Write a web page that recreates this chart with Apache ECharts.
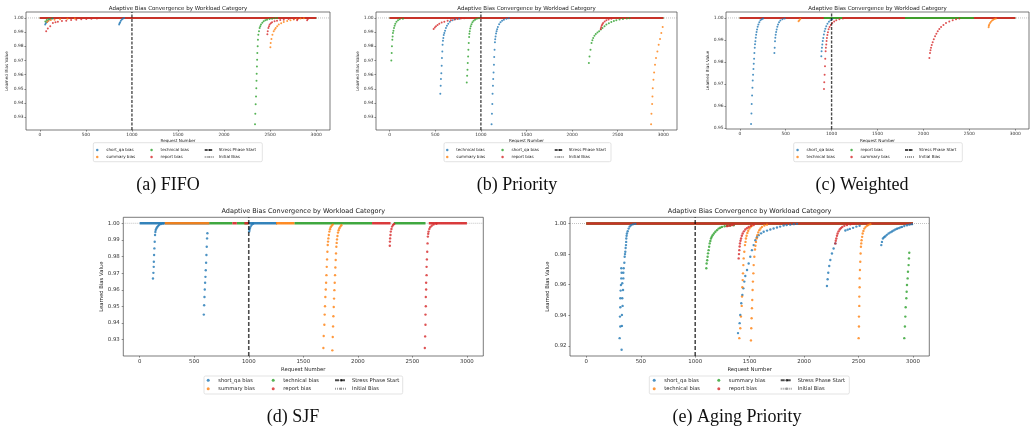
<!DOCTYPE html>
<html>
<head>
<meta charset="utf-8">
<script src="https://cdn.jsdelivr.net/npm/echarts@6/dist/echarts.min.js"></script>
<style>
  html, body { margin: 0; background: #fff; }
  #chart { width: 1036px; height: 433px; }
</style>
</head>
<body>
<div id="chart"></div>
<script>
// ---- shared ticks / constants ----
const xTicks = [0, 500, 1000, 1500, 2000, 2500, 3000];
const yTicks93 = [0.93, 0.94, 0.95, 0.96, 0.97, 0.98, 0.99, 1.00];
const yTicks95 = [0.95, 0.96, 0.97, 0.98, 0.99, 1.00];
const yTicks92 = [0.92, 0.94, 0.96, 0.98, 1.00];
const palette = ['#1f77b4', '#ff7f0e', '#2ca02c', '#d62728'];
const stressStart = 1000;
const initialBias = 1.0;
const chartTitle = 'Adaptive Bias Convergence by Workload Category';

// ---- (a) FIFO ----
const fifoNames = ['short_qa bias', 'summary bias', 'technical bias', 'report bias'];
const fifoShortQa = [[58,.9953],[65,.9962],[75,.997],[90,.998],[110,.999],[140,.9997],
  [861,.9953],[866,.9962],[872,.997],[880,.998],[890,.999],[900,.9995],[915,1.0]];
const fifoSummary = [[80,.9972],[95,.998],[120,.9985],[160,.9988],[220,.9991],[300,.9994],[380,.9997],
  [2503,.9793],[2506,.9823],[2514,.9852],[2525,.9882],[2539,.9906],[2550,.9918],[2561,.9929],[2577,.9942],[2594,.9953],
  [2620,.9963],[2648,.9972],[2685,.9979],[2721,.9984],[2757,.9989],[2793,.9993],[2830,.9996],[2866,.9998]];
const fifoTechnical = [[60,.9975],[75,.9985],[95,.9992],[130,.9997],
  [2336,.925],[2339,.9324],[2343,.9392],[2347,.9446],[2350,.9505],[2352,.9557],[2354,.9606],[2357,.9658],[2359,.9705],
  [2361,.9753],[2365,.98],[2368,.9847],[2372,.9882],[2379,.9906],[2386,.9929],[2393,.9942],[2401,.9953],[2415,.9966],
  [2430,.9976],[2448,.9983],[2466,.9988],[2494,.9992],[2521,.9995],[2548,.9998],[2575,1.0]];
const fifoReport = [[69,.9906],[87,.9925],[113,.9941],[142,.9965],[170,.997],[196,.9974],[240,.9978],[287,.9981],[340,.9985],
  [396,.9988],[450,.9991],[505,.9993],[560,.9995],[620,.9997],
  [2470,.9885],[2474,.9906],[2481,.993],[2488,.9942],[2495,.9953],[2508,.9962],[2521,.997],[2548,.9976],[2575,.9981],
  [2610,.9985],[2648,.9988],[2700,.9992],[2757,.9995],[2793,.9984],[2800,.9993],[2902,.9984],[2910,.9993]];
const fifoFlats = [[[0, 3000]], [[0, 3000]], [[0, 3000]], [[0, 3000]]];

// ---- (b) Priority ----
const prioNames = ['technical bias', 'summary bias', 'short_qa bias', 'report bias'];
const prioTechnical = [[555,.9465],[559,.9522],[562,.9569],[566,.9611],[570,.9663],[573,.9717],[577,.9764],[580,.9811],
  [584,.984],[588,.9859],[593,.988],[599,.9894],[607,.991],[617,.9929],[628,.9945],[642,.996],[660,.9973],[689,.9984],
  [720,.9991],[762,.9995],
  [1117,.925],[1121,.9324],[1125,.9394],[1128,.9465],[1132,.9522],[1135,.9569],[1139,.9616],[1143,.967],[1146,.9724],
  [1150,.9776],[1154,.9828],[1157,.985],[1161,.987],[1166,.989],[1172,.9906],[1178,.992],[1186,.9936],[1200,.9955],
  [1215,.9969],[1232,.998],[1252,.9988],[1280,.9994],[1306,.9998]];
const prioSummary = [[2866,.925],[2870,.9324],[2877,.9394],[2881,.9446],[2884,.9505],[2892,.9564],[2899,.9616],[2909,.967],
  [2920,.9717],[2935,.9764],[2949,.9811],[2964,.9852],[2978,.9894],[2993,.9936]];
const prioShortQa = [[18,.970],[22,.9753],[25,.98],[29,.9847],[32,.987],[36,.9894],[41,.991],[47,.9929],[54,.9945],
  [62,.996],[75,.9973],[91,.9984],[110,.9991],[145,.9995],
  [845,.9545],[849,.9592],[853,.9635],[856,.9682],[860,.9729],[863,.9776],[867,.9823],[871,.9866],[874,.9888],[878,.9906],
  [883,.9925],[889,.9941],[897,.9956],[907,.9969],[920,.998],[936,.9988],[955,.9994],[979,.9998],
  [2184,.9682],[2191,.9729],[2202,.9776],[2213,.9823],[2222,.9843],[2231,.9859],[2245,.9875],[2260,.9887],[2278,.9897],
  [2296,.9906],[2315,.9918],[2333,.9929],[2355,.9941],[2376,.9953],[2403,.9963],[2430,.9972],[2458,.9979],[2485,.9984],
  [2520,.9989],[2557,.9993],[2600,.9996],[2630,.9998]];
const prioReport = [[482,.9922],[495,.9932],[508,.9941],[525,.9951],[544,.996],[570,.9968],[599,.9974],[635,.998],
  [671,.9984],[710,.9989],[744,.9993],[780,.9996],[816,.9998],
  [2314,.9922],[2318,.9934],[2325,.9946],[2332,.9956],[2340,.9965],[2357,.9975],[2376,.9984],[2400,.999],[2430,.9995]];
const prioFlats = [[[0, 3000]], [[0, 3000]], [[0, 3000]], [[0, 3000]]];

// ---- (c) Weighted ----
const wtdNames = ['short_qa bias', 'technical bias', 'report bias', 'summary bias'];
const wtdShortQa = [[123,.9518],[127,.9565],[130,.9609],[134,.9647],[138,.9682],[141,.9715],[145,.9742],[149,.9768],
  [152,.9792],[156,.9814],[159,.9841],[163,.9864],[166,.988],[170,.9894],[174,.991],[178,.9924],[183,.9936],[188,.9947],
  [195,.996],[203,.997],[213,.998],[225,.9989],[240,.9994],[254,.9997],
  [377,.9841],[380,.9864],[384,.9894],[387,.991],[391,.9924],[396,.9936],[402,.9947],[409,.996],[417,.997],[428,.998],
  [442,.9988],[465,.9994],[489,.9997],
  [888,.9826],[891,.9848],[895,.9864],[899,.9879],[904,.9895],[909,.9909],[916,.9925],[924,.9939],[932,.9951],[942,.9962],
  [955,.9974],[971,.9983],[988,.999],[1007,.9995]];
const wtdTechnical = [[640,.9985],[649,.9989],[659,.9995],
  [2710,.9958],[2713,.9964],[2717,.997],[2726,.9977],[2736,.9983],[2748,.9988],[2761,.9992],[2775,.9995],[2790,.9998]];
const wtdReport = [];
const wtdSummary = [[917,.9677],[920,.9708],[924,.9742],[928,.978],[931,.9814],[935,.9848],[938,.9865],[942,.9879],
  [945,.9895],[949,.9909],[954,.9922],[960,.9935],[968,.9948],[978,.9959],[991,.9968],[1007,.9977],[1028,.9984],
  [1051,.9989],[1085,.9994],[1123,.9997],
  [2065,.9818],[2072,.9841],[2077,.9853],[2083,.9864],[2091,.9877],[2101,.9889],[2113,.9903],[2127,.9917],[2141,.9928],
  [2156,.9939],[2173,.995],[2192,.9959],[2218,.9968],[2246,.9977],[2282,.9984],[2319,.9989],[2355,.9994],[2391,.9997]];
const wtdFlats = [[[0, 3000]], [[0, 3000]], [[0, 3000]], [[0, 915], [1120, 1800], [2550, 3000]]];

// ---- (d) SJF ----
const sjfNames = ['short_qa bias', 'summary bias', 'technical bias', 'report bias'];
const sjfShortQa = [[122,.9668],[126,.9702],[129,.9738],[130,.9769],[132,.9809],[135,.9849],[138,.9889],[141,.993],
  [144,.9948],[147,.996],[153,.9968],[159,.9976],[168,.9983],[178,.999],[195,.9995],[214,.9998],
  [588,.9451],[591,.9507],[594,.9557],[597,.9602],[600,.9642],[603,.9678],[606,.9718],[609,.9763],[612,.9809],
  [615,.9859],[618,.9909],[621,.994],
  [1004,.995],[1007,.996],[1010,.997],[1017,.998],[1026,.999],[1040,.9997]];
const sjfSummary = [[1684,.925],[1687,.9322],[1693,.939],[1696,.9451],[1699,.9501],[1702,.9557],[1706,.9602],[1709,.9642],
  [1712,.9688],[1715,.9738],[1718,.9783],[1721,.9829],[1724,.9869],[1727,.989],[1730,.9909],[1734,.993],[1739,.995],
  [1745,.9964],[1751,.9976],[1760,.9985],[1770,.9992],
  [1766,.9236],[1770,.9316],[1773,.938],[1776,.9441],[1779,.9497],[1782,.9547],[1785,.9598],[1788,.9642],[1791,.9688],
  [1794,.9734],[1797,.9779],[1800,.9819],[1803,.9859],[1806,.9882],[1809,.9903],[1813,.9924],[1818,.9944],[1824,.9958],
  [1831,.997],[1840,.998],[1849,.9988]];
const sjfTechnical = [];
const sjfReport = [[2293,.9865],[2294,.989],[2296,.9909],[2299,.993],[2302,.995],[2308,.9966],[2314,.998],[2322,.999],[2333,.9996],
  [2614,.925],[2617,.932],[2620,.939],[2620,.9451],[2623,.9501],[2623,.9557],[2626,.9602],[2626,.9642],[2630,.9688],
  [2630,.9738],[2633,.9783],[2636,.9829],[2639,.9879],[2642,.992],[2645,.9937],[2648,.995],[2655,.9965],[2663,.9976],
  [2677,.9985],[2694,.9992],[2720,.9997]];
const sjfFlats = [
  [[0, 640], [1000, 1260]],
  [[230, 640], [1250, 1420]],
  [[640, 850], [890, 1000], [1420, 2130], [2330, 2620]],
  [[850, 890], [960, 1000], [2130, 2300], [2650, 3000]]
];

// ---- (e) Aging Priority ----
const agingNames = ['short_qa bias', 'technical bias', 'summary bias', 'report bias'];
const agingShortQa = [[324,.9174],[306,.925],[312,.9326],[327,.933],[309,.9391],[327,.9402],[312,.9452],[333,.9461],
  [312,.9511],[330,.9511],[315,.9561],[337,.9565],[318,.9598],[330,.9609],[321,.9641],[340,.9641],[324,.9678],[340,.9678],
  [321,.9707],[343,.9707],[349,.9743],[352,.9783],[355,.98],[358,.9815],[361,.984],[364,.9859],[366,.988],[367,.9902],
  [370,.992],[373,.9935],[380,.995],[389,.9967],[398,.998],[410,.9989],[428,.9995],[450,.9998],
  [1393,.9283],[1408,.9348],[1414,.9402],[1423,.9478],[1433,.9533],[1442,.9576],[1451,.962],[1460,.9657],[1476,.9696],
  [1491,.9739],[1506,.9783],[1521,.9826],[1537,.9859],[1552,.9891],[1567,.991],[1583,.9924],[1605,.9936],[1629,.9946],
  [1660,.9954],[1690,.9961],[1720,.9968],[1751,.9974],[1780,.998],[1812,.9987],[1840,.999],[1873,.9993],[1905,.9996],
  [1935,.9998],
  [2210,.9591],[2216,.9635],[2222,.9678],[2231,.9722],[2241,.9761],[2256,.9804],[2271,.9837],[2287,.987],
  [2379,.9955],[2400,.996],[2420,.9965],[2450,.9972],[2480,.998],[2510,.9985],
  [2709,.9859],[2715,.988],[2724,.9902],[2735,.991],[2746,.9917],[2760,.9926],[2776,.9935],[2792,.9942],[2807,.9948],
  [2822,.9955],[2838,.9961],[2853,.9966],[2868,.997],[2884,.9975],[2899,.9978],[2920,.9984],[2945,.9989],[2968,.9993],
  [2990,.9996]];
const agingTechnical = [[1405,.925],[1414,.9315],[1420,.9391],[1427,.9461],[1430,.9522],[1433,.9583],[1436,.963],
  [1439,.9674],[1442,.9728],[1445,.9772],[1451,.9815],[1457,.9859],[1462,.988],[1466,.9902],[1472,.992],[1479,.9939],
  [1487,.9953],[1497,.9967],[1508,.9977],[1521,.9985],
  [1512,.9235],[1515,.9315],[1518,.938],[1521,.9446],[1524,.95],[1527,.9565],[1530,.962],[1534,.9674],[1537,.9728],
  [1543,.9783],[1549,.983],[1553,.9855],[1558,.988],[1564,.9903],[1570,.9924],[1579,.9942],[1589,.9957],[1600,.9968],
  [1613,.9978],[1635,.9987],[1659,.9993],
  [2501,.925],[2504,.9326],[2504,.9391],[2507,.9461],[2507,.9522],[2510,.9583],[2510,.9641],[2513,.9696],[2516,.975],
  [2519,.9804],[2522,.9848],[2525,.987],[2528,.9891],[2533,.9913],[2538,.9935],[2545,.9952],[2553,.9967],[2564,.9977],
  [2577,.9985],[2590,.9991],[2608,.9996]];
const agingSummary = [[1102,.9707],[1105,.9739],[1110,.976],[1114,.9783],[1118,.9805],[1123,.9826],[1128,.9848],
  [1133,.987],[1139,.9886],[1145,.9902],[1152,.9913],[1160,.9924],[1172,.9935],[1185,.9946],[1200,.9957],[1215,.9967],
  [1230,.9973],[1246,.9978],[1270,.9982],[1292,.9985],[1320,.9987],[1353,.9989],
  [2920,.925],[2926,.9326],[2930,.9391],[2933,.9452],[2939,.9511],[2942,.9554],[2945,.9598],[2951,.9641],[2954,.9685],
  [2960,.9728],[2963,.9772],[2966,.9809]];
const agingReport = [[1292,.9983],[1307,.9985],[1322,.9987],[1338,.999],[1353,.9993],
  [1399,.9772],[1402,.98],[1405,.9826],[1408,.985],[1411,.987],[1416,.9887],[1421,.9902],[1428,.992],[1436,.9935],
  [1447,.9949],[1460,.9961],[1475,.997],[1491,.9978],[1512,.9985],[1537,.9991],
  [2287,.987],[2291,.9887],[2296,.9902],[2302,.992],[2308,.9935],[2317,.9949],[2327,.9961],[2338,.997],[2351,.9978],
  [2370,.9985],[2394,.9991],[2425,.9995],[2455,.9998]];
const agingFlats = [[[0, 3000]], [[0, 3000]], [[0, 3000]], [[0, 3000]]];

// ---- panel layout (pixel positions in the 1036x433 page) ----
const small = { title: 5.5, tick: 4.4, name: 4.2, legend: 4.1, dot: 2, base: 2, stressW: 1.4, dash: [3, 1.5],
  rowH: 7, dotIcon: 2.5, lineIcon: 9, scatIcon: 8 };
const large = { title: 6.5, tick: 5.4, name: 5.3, legend: 5.2, dot: 2.4, base: 2.4, stressW: 1.6, dash: [4, 2],
  rowH: 8.4, dotIcon: 3, lineIcon: 12, scatIcon: 10 };

const panels = [
  { key: 'a', caption: '(a) FIFO', names: fifoNames, points: [fifoShortQa, fifoSummary, fifoTechnical, fifoReport],
    flats: fifoFlats, yTicks: yTicks93, yMin: 0.921, yMax: 1.0042, sz: small,
    grid: { left: 26, top: 12, width: 304, height: 118 }, titleY: 8.3, yNameGap: 16.6, xNameGap: 9.3, labelMargin: 2.5,
    legendTop: 146.5, legendX: [96, 150.3, 203.7], frame: [93.3, 142.7, 169, 19], capX: 168, capY: 185 },
  { key: 'b', caption: '(b) Priority', names: prioNames, points: [prioTechnical, prioSummary, prioShortQa, prioReport],
    flats: prioFlats, yTicks: yTicks93, yMin: 0.921, yMax: 1.0042, sz: small,
    grid: { left: 376, top: 12, width: 301, height: 118 }, titleY: 8.3, yNameGap: 15.6, xNameGap: 9.3, labelMargin: 2.5,
    legendTop: 146.5, legendX: [446, 501.3, 553.7], frame: [444, 142.7, 167, 19], capX: 517, capY: 185 },
  { key: 'c', caption: '(c) Weighted', names: wtdNames, points: [wtdShortQa, wtdTechnical, wtdReport, wtdSummary],
    flats: wtdFlats, yTicks: yTicks95, yMin: 0.9495, yMax: 1.0027, sz: small,
    grid: { left: 726, top: 12, width: 303, height: 117 }, titleY: 8.3, yNameGap: 15.6, xNameGap: 10.3, labelMargin: 2.5,
    legendTop: 146.5, legendX: [796.3, 850.3, 904], frame: [793.7, 142.7, 168.6, 19], capX: 862, capY: 185 },
  { key: 'd', caption: '(d) SJF', names: sjfNames, points: [sjfShortQa, sjfSummary, sjfTechnical, sjfReport],
    flats: sjfFlats, yTicks: yTicks93, yMin: 0.9202, yMax: 1.0036, sz: large,
    grid: { left: 123.3, top: 217.3, width: 360, height: 138.7 }, titleY: 211.7, yNameGap: 18, xNameGap: 11.3, labelMargin: 3.5,
    legendTop: 376.1, legendX: [206.7, 271.7, 334], frame: [204, 376, 198.7, 18], capX: 293, capY: 417 },
  { key: 'e', caption: '(e) Aging Priority', names: agingNames, points: [agingShortQa, agingTechnical, agingSummary, agingReport],
    flats: agingFlats, yTicks: yTicks92, yMin: 0.9133, yMax: 1.0041, sz: large,
    grid: { left: 570, top: 217.3, width: 359.3, height: 138.7 }, titleY: 211.7, yNameGap: 19, xNameGap: 11.3, labelMargin: 3.5,
    legendTop: 376.1, legendX: [652.7, 717.3, 779.7], frame: [649.3, 376, 200, 18], capX: 737, capY: 417 }
];

const font = 'DejaVu Sans';
const stressColor = 'rgba(0,0,0,0.7)';
const grids = [], xAxes = [], yAxes = [], series = [], legends = [], graphics = [];

panels.forEach((p, i) => {
  const s = p.sz;
  const sfx = '|' + p.key;
  grids.push(Object.assign({ show: true, borderColor: '#444', borderWidth: 0.7, backgroundColor: 'transparent' }, p.grid));

  xAxes.push({
    type: 'value', gridIndex: i, min: -150, max: 3150,
    name: 'Request Number', nameLocation: 'middle', nameGap: p.xNameGap,
    nameTextStyle: { fontFamily: font, fontSize: s.name, color: '#222' },
    axisLine: { show: false, onZero: false }, splitLine: { show: false },
    axisTick: { show: true, customValues: xTicks, length: 1.6, lineStyle: { color: '#444', width: 0.6 } },
    axisLabel: { customValues: xTicks, margin: p.labelMargin, fontFamily: font, fontSize: s.tick, color: '#333',
      formatter: v => String(v) }
  });
  yAxes.push({
    type: 'value', gridIndex: i, min: p.yMin, max: p.yMax,
    name: 'Learned Bias Value', nameLocation: 'middle', nameGap: p.yNameGap,
    nameTextStyle: { fontFamily: font, fontSize: s.name, color: '#222' },
    axisLine: { show: false, onZero: false }, splitLine: { show: false },
    axisTick: { show: true, customValues: p.yTicks, length: 1.6, lineStyle: { color: '#444', width: 0.6 } },
    axisLabel: { customValues: p.yTicks, margin: p.labelMargin, fontFamily: font, fontSize: s.tick, color: '#333',
      formatter: v => v.toFixed(2) }
  });

  p.names.forEach((name, c) => {
    p.flats[c].forEach((seg, k) => {
      series.push({
        type: 'line', name: 'base' + sfx + c + '_' + k, xAxisIndex: i, yAxisIndex: i, silent: true,
        data: seg.map(x => [x, initialBias]), symbol: 'none',
        lineStyle: { color: palette[c], width: s.base, opacity: 0.9 }, z: 2
      });
    });
    series.push({
      type: 'scatter', name: name + sfx, xAxisIndex: i, yAxisIndex: i, silent: true,
      data: p.points[c], symbol: 'circle', symbolSize: s.dot,
      itemStyle: { color: palette[c], opacity: 0.8 }, z: 2
    });
  });

  series.push({
    type: 'line', name: 'Stress Phase Start' + sfx, xAxisIndex: i, yAxisIndex: i, silent: true,
    data: [[stressStart, p.yMin], [stressStart, p.yMax]], symbol: 'none',
    itemStyle: { color: stressColor },
    lineStyle: { color: stressColor, width: s.stressW, type: s.dash }, z: 3
  });
  series.push({
    type: 'line', name: 'Initial Bias' + sfx, xAxisIndex: i, yAxisIndex: i, silent: true,
    data: [[-150, initialBias], [3150, initialBias]], symbol: 'none',
    itemStyle: { color: '#999' },
    lineStyle: { color: '#999', width: 0.6, type: [1, 1] }, z: 1
  });

  const legendBase = {
    orient: 'vertical', top: p.legendTop, itemGap: 0, padding: 0, selectedMode: false,
    itemHeight: s.dotIcon, formatter: n => n.split('|')[0],
    textStyle: { fontFamily: font, fontSize: s.legend, lineHeight: s.rowH, color: '#222' }
  };
  legends.push(Object.assign({}, legendBase, { left: p.legendX[0], itemWidth: s.scatIcon,
    data: [0, 1].map(c => ({ name: p.names[c] + sfx, icon: 'circle' })) }));
  legends.push(Object.assign({}, legendBase, { left: p.legendX[1], itemWidth: s.scatIcon,
    data: [2, 3].map(c => ({ name: p.names[c] + sfx, icon: 'circle' })) }));
  legends.push(Object.assign({}, legendBase, { left: p.legendX[2], itemWidth: s.lineIcon,
    data: ['Stress Phase Start' + sfx, 'Initial Bias' + sfx] }));

  graphics.push({
    type: 'rect', z: 1, silent: true,
    shape: { x: p.frame[0], y: p.frame[1], width: p.frame[2], height: p.frame[3], r: 1.5 },
    style: { fill: 'rgba(255,255,255,0.85)', stroke: '#d0d0d0', lineWidth: 0.6 }
  });
  graphics.push({
    type: 'text', silent: true, x: p.grid.left + p.grid.width / 2, y: p.titleY,
    style: { text: chartTitle, font: s.title + 'px "' + font + '"', fill: '#222', textAlign: 'center', textVerticalAlign: 'middle' }
  });
  graphics.push({
    type: 'text', silent: true, x: p.capX, y: p.capY,
    style: { text: p.caption, font: '18px "Liberation Serif"', fill: '#111', textAlign: 'center', textVerticalAlign: 'middle' }
  });
});

const chart = echarts.init(document.getElementById('chart'), null, { renderer: 'canvas' });
chart.setOption({
  animation: false,
  backgroundColor: '#fff',
  grid: grids,
  xAxis: xAxes,
  yAxis: yAxes,
  legend: legends,
  series: series,
  graphic: graphics
});
</script>
</body>
</html>
